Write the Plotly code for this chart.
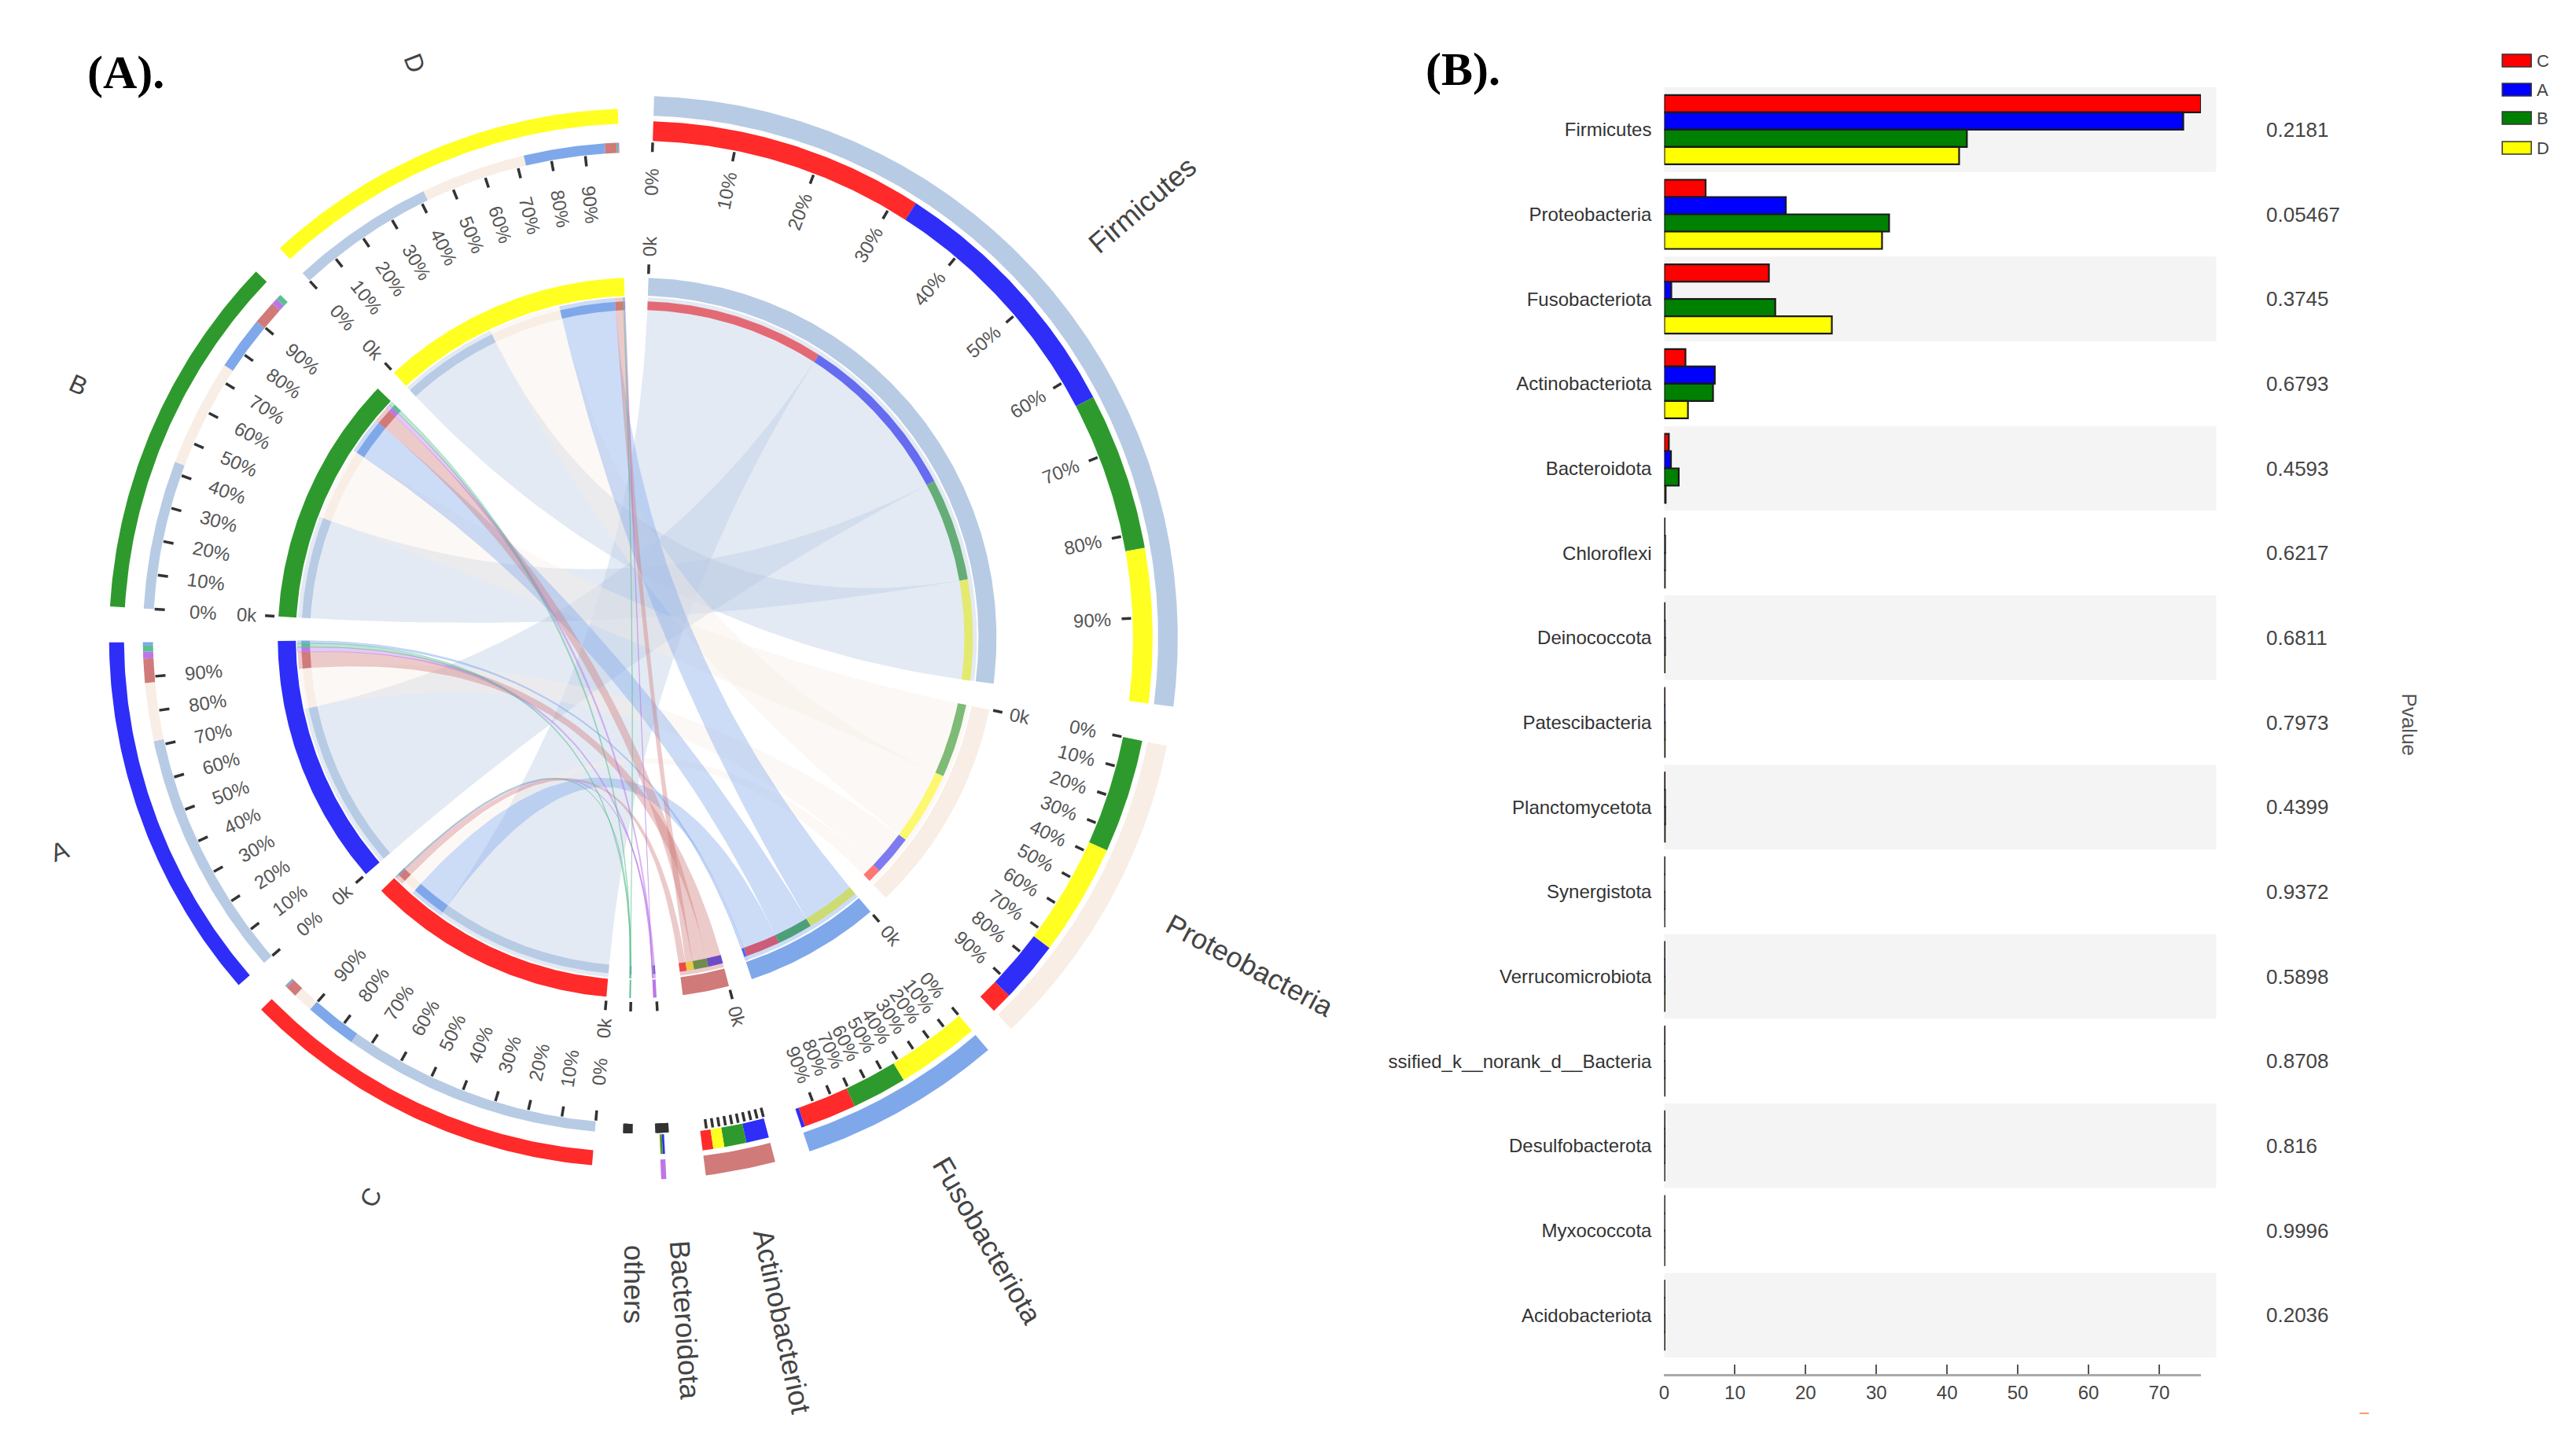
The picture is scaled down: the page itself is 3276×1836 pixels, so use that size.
import numpy as np
import plotly.graph_objects as go

# ---------- data: panel B (mean proportion, %) ----------
bar_phyla = ["Firmicutes", "Proteobacteria", "Fusobacteriota", "Actinobacteriota", "Bacteroidota",
             "Chloroflexi", "Deinococcota", "Patescibacteria", "Planctomycetota", "Synergistota",
             "Verrucomicrobiota", "ssified_k__norank_d__Bacteria", "Desulfobacterota", "Myxococcota",
             "Acidobacteriota"]
bar_C = [75.9, 5.85, 14.8, 3.0, 0.65, 0.05, 0.05, 0.05, 0.06, 0.04, 0.04, 0.05, 0.04, 0.03, 0.03]
bar_A = [73.4, 17.2, 1.0, 7.15, 0.95, 0.12, 0.08, 0.06, 0.10, 0.03, 0.05, 0.04, 0.05, 0.03, 0.04]
bar_B = [42.8, 31.8, 15.7, 6.9, 2.05, 0.10, 0.10, 0.08, 0.12, 0.05, 0.06, 0.06, 0.05, 0.04, 0.05]
bar_D = [41.7, 30.8, 23.7, 3.35, 0.2, 0.08, 0.06, 0.07, 0.08, 0.03, 0.05, 0.05, 0.03, 0.03, 0.04]
pvalues = ["0.2181", "0.05467", "0.3745", "0.6793", "0.4593", "0.6217", "0.6811", "0.7973", "0.4399",
           "0.9372", "0.5898", "0.8708", "0.816", "0.9996", "0.2036"]
x_ticks = [0, 10, 20, 30, 40, 50, 60, 70]

# ---------- data: panel A (chord diagram) ----------
groups = ["C", "A", "B", "D"]
chord_phyla = ["Firmicutes", "Proteobacteria", "Fusobacteriota", "Actinobacteriot", "Bacteroidota", "others"]
chord_firmicutes = [75.0, 71.5, 43.0, 42.0]
chord_proteobacteria = [5.8, 16.8, 31.0, 30.5]
chord_fusobacteriota = [15.0, 1.0, 15.5, 23.5]
chord_actinobacteriota = [3.3, 7.0, 6.8, 3.4]
chord_bacteroidota = [0.4, 2.0, 1.8, 0.3]
chord_others = [0.3, 1.7, 1.6, 0.4]
tick_percent = [0, 10, 20, 30, 40, 50, 60, 70, 80, 90]

# ---------- layout constants ----------
W, H = 3276, 1836
CX, CY = 805, 811
phyla_start = [1.8, 101.5, 139.5, 165.2, 176.9, 181.0]
phyla_span = [95.5, 34.7, 21.9, 7.5, 0.55, 0.25]
group_start = [184.9, 229.0, 273.4, 317.4]
group_span = [40.5, 40.5, 40.4, 40.5]
phylum_colors = ["#B8CBE4", "#F8EEE6", "#7FA8EA", "#D07A7A", "#BB77E8", "#5BBF8F"]
group_colors = {"C": "#FF2A2A", "A": "#2E2EF8", "B": "#2E9A2E", "D": "#FFFF22"}
bar_colors = {"C": "#FF0000", "A": "#0000FF", "B": "#008000", "D": "#FFFF00"}
RIB_R = 433
FONT = "Liberation Sans"

matrix = np.array([chord_firmicutes, chord_proteobacteria, chord_fusobacteriota,
                   chord_actinobacteriota, chord_bacteroidota, chord_others])


def pol(a, r):
    t = np.radians(a)
    return r * np.sin(t), -r * np.cos(t)


def rgba(h, al):
    return "rgba(%d,%d,%d,%.3f)" % (int(h[1:3], 16), int(h[3:5], 16), int(h[5:7], 16), al)


def band(a0, a1, r0, r1):
    n = max(3, int(abs(a1 - a0) * 2) + 2)
    aa = np.linspace(a0, a1, n)
    xo, yo = pol(aa, r1)
    xi, yi = pol(aa[::-1], r0)
    return np.r_[xo, xi, xo[0]], np.r_[yo, yi, yo[0]]


def ribbon(s0, s1, t0, t1, r):
    def arc(a0, a1):
        aa = np.linspace(a0, a1, max(3, int(abs(a1 - a0) * 2) + 2))
        return pol(aa, r)

    def quad(p, q):
        u = np.linspace(0, 1, 50)[1:-1]
        return (1 - u) ** 2 * p[0] + u ** 2 * q[0], (1 - u) ** 2 * p[1] + u ** 2 * q[1]
    sx, sy = arc(s0, s1)
    tx, ty = arc(t0, t1)
    q1 = quad((sx[-1], sy[-1]), (tx[0], ty[0]))
    q2 = quad((tx[-1], ty[-1]), (sx[0], sy[0]))
    return np.r_[sx, q1[0], tx, q2[0], sx[0]], np.r_[sy, q1[1], ty, q2[1], sy[0]]


def px(x):
    return x / W


def py(y):
    return 1 - y / H


fig = go.Figure()


def add_band(a0, a1, r0, r1, color):
    x, y = band(a0, a1, r0, r1)
    fig.add_trace(go.Scatter(x=x, y=y, mode="lines", fill="toself", fillcolor=color, line=dict(width=0),
                             xaxis="x2", yaxis="y2", hoverinfo="skip", showlegend=False))


# sub-arcs sorted by value inside every segment
sp_arcs = {}
for i in range(len(chord_phyla)):
    order = np.argsort(-matrix[i], kind="stable")
    k = phyla_span[i] / matrix[i].sum()
    a = phyla_start[i]
    for j in order:
        sp_arcs[(i, j)] = (a, a + matrix[i, j] * k)
        a += matrix[i, j] * k
gp_arcs = {}
for j in range(len(groups)):
    order = np.argsort(-matrix[:, j], kind="stable")
    k = group_span[j] / matrix[:, j].sum()
    a = group_start[j]
    for i in order:
        gp_arcs[(i, j)] = (a, a + matrix[i, j] * k)
        a += matrix[i, j] * k

# inner ring + outer rings
for i, name in enumerate(chord_phyla):
    add_band(phyla_start[i], phyla_start[i] + phyla_span[i], 435, 458, phylum_colors[i])
    if name != "others":
        add_band(phyla_start[i], phyla_start[i] + phyla_span[i], 664, 689, phylum_colors[i])
    for j, g in enumerate(groups):
        a0, a1 = sp_arcs[(i, j)]
        add_band(a0, a1, 417, 428, group_colors[g])
        if name != "others":
            add_band(a0, a1, 632, 657, group_colors[g])
for j, g in enumerate(groups):
    add_band(group_start[j], group_start[j] + group_span[j], 435, 458, group_colors[g])
    add_band(group_start[j], group_start[j] + group_span[j], 654, 673, group_colors[g])
    for i in range(len(chord_phyla)):
        a0, a1 = gp_arcs[(i, j)]
        add_band(a0, a1, 417, 428, phylum_colors[i])
        add_band(a0, a1, 617, 630, phylum_colors[i])

# ribbons
for i in range(len(chord_phyla)):
    for j in range(len(groups)):
        s0, s1 = sp_arcs[(i, j)]
        t0, t1 = gp_arcs[(i, j)]
        x, y = ribbon(s0, s1, t0, t1, RIB_R)
        thin = i >= 4
        fig.add_trace(go.Scatter(x=x, y=y, mode="lines", fill="toself",
                                 fillcolor=rgba(phylum_colors[i], 0.4),
                                 line=dict(width=0.8 if (thin or matrix[i, j] < 1.5) else 0,
                                           color=rgba(phylum_colors[i], 0.5)),
                                 xaxis="x2", yaxis="y2", hoverinfo="skip", showlegend=False))

# ticks
tx, ty = [], []
annots = []


def label(a, r, text, rot, size=24, color="#555555"):
    x, y = pol(a, r)
    annots.append(dict(x=float(x), y=float(y), xref="x2", yref="y2", text=text, showarrow=False, textangle=rot,
                       xanchor="center", yanchor="middle", font=dict(family=FONT, size=size, color=color)))


def tick(a, r0, r1):
    x0, y0 = pol(a, r0)
    x1, y1 = pol(a, r1)
    tx.extend([x0, x1, None])
    ty.extend([y0, y1, None])


blob_span = {4: 1.4, 5: 0.9}
for i, name in enumerate(chord_phyla):
    st, sp = phyla_start[i], phyla_span[i]
    if i in blob_span:
        st, sp = st + sp / 2 - blob_span[i] / 2, blob_span[i]
    for p in tick_percent:
        a = st + sp * p / 100
        tick(a, 618, 630)
        if i <= 2:
            label(a, 580, "%d%%" % p, a - 90)
    tick(phyla_start[i], 463, 475)
    if i <= 3:
        label(phyla_start[i], 498, "0k", phyla_start[i] - 90)
for j, g in enumerate(groups):
    for p in tick_percent:
        a = group_start[j] + group_span[j] * p / 100
        tick(a, 603, 616)
        label(a, 554, "%d%%" % p, a - 270)
    tick(group_start[j], 463, 475)
    label(group_start[j], 498, "0k", group_start[j] - 270)
fig.add_trace(go.Scatter(x=tx, y=ty, mode="lines", line=dict(color="#333333", width=3.5), xaxis="x2", yaxis="y2",
                         hoverinfo="skip", showlegend=False))

# segment names
phylum_label_a = [49.5, 118.1, 149.8, 168.0, 176.0, 180.3]
phylum_label_r = [847, 885, 887, 888, 870, 822]
for n, a, r in zip(chord_phyla, phylum_label_a, phylum_label_r):
    label(a, r, n, a - 90, size=36, color="#444444")
group_label_a = [205.5, 249.8, 294.3, 338.8]
group_label_r = [788, 784, 782, 784]
for n, a, r in zip(groups, group_label_a, group_label_r):
    label(a, r, n, a - 270, size=32, color="#444444")

# ---------- panel B ----------
bar_series = {"C": bar_C, "A": bar_A, "B": bar_B, "D": bar_D}
for g in groups:
    fig.add_trace(go.Bar(y=bar_phyla, x=bar_series[g], orientation="h", name=g,
                         marker=dict(color=bar_colors[g], line=dict(color="#1a1a1a", width=2.2)),
                         xaxis="x", yaxis="y", showlegend=False))

PL, PR, PT, ROW, PB = 2114, 2798, 111, 107.67, 1746.7
shapes = []
for i in range(0, len(bar_phyla), 2):
    shapes.append(dict(type="rect", xref="paper", yref="paper", x0=px(PL), x1=px(2817.5),
                       y0=py(PT + ROW * i), y1=py(PT + ROW * (i + 1)),
                       fillcolor="#F4F4F4", line=dict(width=0), layer="below"))
for n, pv in enumerate(pvalues):
    annots.append(dict(x=px(2879), xref="paper", y=bar_phyla[n], yref="y", text=pv, showarrow=False, xanchor="left",
                       yanchor="middle", font=dict(family=FONT, size=26, color="#444444")))


def paper_text(x, y, text, size, color, family=FONT, angle=0, xanchor="center"):
    annots.append(dict(x=px(x), y=py(y), xref="paper", yref="paper", text=text, showarrow=False, textangle=angle,
                       xanchor=xanchor, yanchor="middle", font=dict(family=family, size=size, color=color)))


paper_text(3064, 922, "Pvalue", 26, "#555555", angle=90)
paper_text(153, 92, "<b>(A).</b>", 60, "#000000", family="Liberation Serif")
paper_text(1857, 88, "<b>(B).</b>", 60, "#000000", family="Liberation Serif")

legend_y = [77, 114, 150, 188]
for g, ly in zip(groups, legend_y):
    shapes.append(dict(type="rect", xref="paper", yref="paper", x0=px(3182), x1=px(3219), y0=py(ly - 8), y1=py(ly + 8),
                       fillcolor=bar_colors[g], line=dict(color="#333333", width=1.5)))
    paper_text(3224, ly, g, 22, "#444444", xanchor="left")
shapes.append(dict(type="rect", xref="paper", yref="paper", x0=px(3000), x1=px(3012), y0=py(1796), y1=py(1798),
                   fillcolor="#FF9966", line=dict(width=0)))

fig.update_layout(
    width=W, height=H, margin=dict(l=0, r=0, t=0, b=0), autosize=False,
    paper_bgcolor="white", plot_bgcolor="rgba(0,0,0,0)", showlegend=False,
    barmode="group", bargap=0.183, bargroupgap=0,
    shapes=shapes, annotations=annots,
    xaxis=dict(domain=[px(PL), px(PR)], range=[0, 75.9], anchor="y", tickmode="array",
               tickvals=x_ticks + [75.9], ticktext=[str(v) for v in x_ticks] + [""],
               ticks="inside", ticklen=12, tickwidth=2, tickcolor="#555555", showline=True, linecolor="#AAAAAA",
               linewidth=3, showgrid=False, zeroline=False, tickfont=dict(family=FONT, size=24, color="#444444")),
    yaxis=dict(domain=[py(PB), py(PT)], range=[(PB - PT) / ROW - 0.5, -0.5], anchor="x", type="category",
               categoryorder="array", categoryarray=bar_phyla, showline=False, showgrid=False, zeroline=False,
               ticks="", ticklabelstandoff=15, tickfont=dict(family=FONT, size=24, color="#333333")),
    xaxis2=dict(domain=[0, 1], range=[-CX, W - CX], anchor="y2", visible=False, fixedrange=True),
    yaxis2=dict(domain=[0, 1], range=[H - CY, -CY], anchor="x2", visible=False, fixedrange=True),
)

fig.write_html("out.html", config={"displayModeBar": False},
               post_script="document.body.style.margin='0';document.body.style.overflow='hidden';")
